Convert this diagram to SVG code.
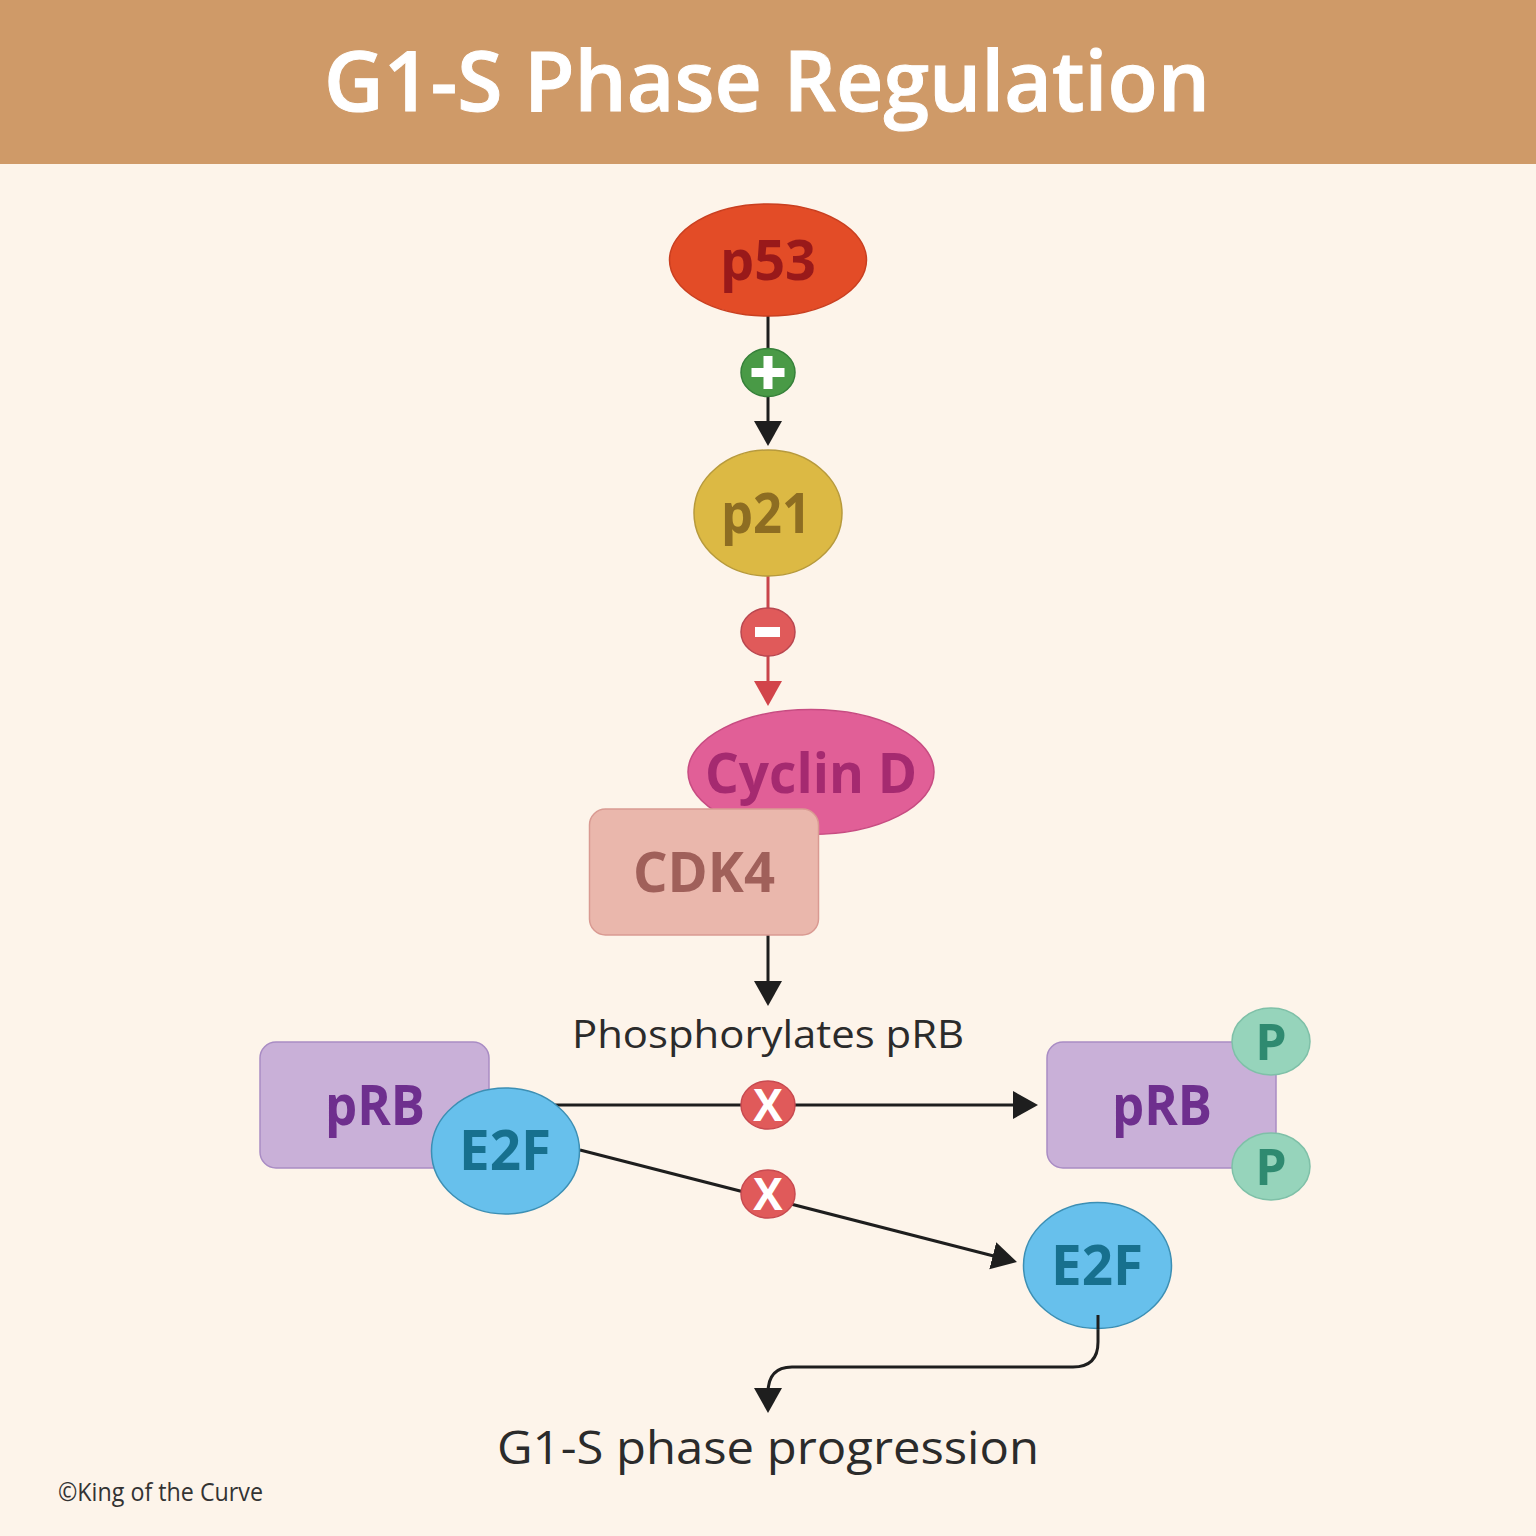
<svg xmlns="http://www.w3.org/2000/svg" width="1536" height="1536" viewBox="0 0 1536 1536">
<style>
text{font-family:"Open Sans","Noto Sans","Liberation Sans",sans-serif}
.c{text-anchor:middle}
.lbl{font-size:56px;font-weight:700}
.cap{font-size:38px;fill:#2b2b2b;font-weight:400}
.ln{fill:none;stroke:#1e1e1e;stroke-width:3}
.rd{fill:none;stroke:#c9444a;stroke-width:3}
.x{fill:#e05a5a;stroke:#c84a50;stroke-width:1.5}
.sym{fill:#fff;font-size:44px;font-weight:700}
.prb{fill:#c9b0d8;stroke:#a98cc4;stroke-width:1.5}
.e2f{fill:#67c0ec;stroke:#3c8fb4;stroke-width:1.5}
.p{fill:#96d4bb;stroke:#7fc0a8;stroke-width:1.5}
.tprb{fill:#6e2f8e}.te2f{fill:#17708e}.tp{fill:#2f8a70}
</style>
<defs>
<marker id="ab" markerUnits="userSpaceOnUse" markerWidth="26" markerHeight="30" refX="5" refY="15" orient="auto"><path d="M0 1L25 15L0 29Z" fill="#1e1e1e"/></marker>
<marker id="ar" markerUnits="userSpaceOnUse" markerWidth="26" markerHeight="30" refX="5" refY="15" orient="auto"><path d="M0 1L25 15L0 29Z" fill="#d2444a"/></marker>
</defs>
<rect width="1536" height="1536" fill="#fdf4ea"/>
<rect width="1536" height="164" fill="#cf9a68"/>
<text class="c" x="767" y="111" font-size="83" font-weight="600" fill="#fff" stroke="#fff" stroke-width="1" textLength="886" lengthAdjust="spacingAndGlyphs">G1-S Phase Regulation</text>
<g id="connectors">
<path class="ln" d="M768 316V426" marker-end="url(#ab)"/>
<path class="rd" d="M768 576V686" marker-end="url(#ar)"/>
<path class="ln" d="M768 935V986" marker-end="url(#ab)"/>
<path class="ln" d="M552 1105H1018" marker-end="url(#ab)"/>
<path class="ln" d="M580 1150L997.600 1257" marker-end="url(#ab)"/>
<path class="ln" d="M1098 1315V1342Q1098 1367 1073 1367H792Q768 1367 768 1393" marker-end="url(#ab)"/>
</g>
<g id="p53"><ellipse cx="768" cy="260" rx="98.500" ry="56" fill="#e34c27" stroke="#c93f20" stroke-width="1.500"/><text class="c lbl" x="768" y="280" fill="#99191a" textLength="96" lengthAdjust="spacingAndGlyphs">p53</text></g>
<g id="plus"><ellipse cx="768" cy="372.500" rx="27" ry="24" fill="#499a46" stroke="#36803a" stroke-width="1.500"/><path d="M763.500 356h9v12h12v9h-12v12h-9v-12h-12v-9h12z" fill="#fff"/></g>
<g id="p21"><ellipse cx="768" cy="513" rx="74" ry="63" fill="#dcb944" stroke="#b79a3c" stroke-width="1.500"/><text class="c lbl" x="766" y="533" fill="#8d6d22" textLength="90" lengthAdjust="spacingAndGlyphs">p21</text></g>
<g id="minus"><ellipse cx="768" cy="632" rx="27" ry="24" fill="#e05a5a" stroke="#b94750" stroke-width="1.500"/><rect x="755" y="627" width="25" height="10" fill="#fff"/></g>
<g id="cyclin-d"><ellipse cx="811" cy="772" rx="123" ry="62.500" fill="#e15f97" stroke="#c74c82" stroke-width="1.500"/><text class="c lbl" x="811" y="793" fill="#a52a70" textLength="212" lengthAdjust="spacingAndGlyphs">Cyclin D</text></g>
<g id="cdk4"><rect x="589.500" y="809" width="229" height="126" rx="16" fill="#eab7ac" stroke="#d99a92" stroke-width="1.500"/><text class="c lbl" x="704" y="892" fill="#a0605a" textLength="142" lengthAdjust="spacingAndGlyphs">CDK4</text></g>
<text class="c cap" x="768" y="1048" textLength="392" lengthAdjust="spacingAndGlyphs">Phosphorylates pRB</text>
<g id="prb-left"><rect class="prb" x="260" y="1042" width="229" height="126" rx="16"/><text class="c lbl tprb" x="375" y="1125" textLength="100" lengthAdjust="spacingAndGlyphs">pRB</text></g>
<g id="e2f-left"><ellipse class="e2f" cx="505.500" cy="1151" rx="74" ry="63"/><text class="c lbl te2f" x="505" y="1170" textLength="92" lengthAdjust="spacingAndGlyphs">E2F</text></g>
<g id="block-1"><ellipse class="x" cx="768" cy="1105" rx="27" ry="24"/><text class="c sym" x="768" y="1121">X</text></g>
<g id="block-2"><ellipse class="x" cx="768" cy="1194" rx="27" ry="24"/><text class="c sym" x="768" y="1210">X</text></g>
<g id="prb-right"><rect class="prb" x="1047" y="1042" width="229" height="126" rx="16"/><text class="c lbl tprb" x="1162" y="1125" textLength="100" lengthAdjust="spacingAndGlyphs">pRB</text></g>
<g id="p-top"><ellipse class="p" cx="1271" cy="1041.500" rx="39" ry="33.500"/><text class="c lbl tp" x="1271" y="1060" style="font-size:50px">P</text></g>
<g id="p-bottom"><ellipse class="p" cx="1271" cy="1166.500" rx="39" ry="33.500"/><text class="c lbl tp" x="1271" y="1185" style="font-size:50px">P</text></g>
<g id="e2f-right"><ellipse class="e2f" cx="1097.500" cy="1265.500" rx="74" ry="63"/><text class="c lbl te2f" x="1097" y="1285" textLength="92" lengthAdjust="spacingAndGlyphs">E2F</text></g>
<path class="ln" d="M1098 1315V1329"/>
<text class="c cap" x="768" y="1464" style="font-size:46px" textLength="542" lengthAdjust="spacingAndGlyphs">G1-S phase progression</text>
<text x="58" y="1501" font-size="26" fill="#333" textLength="205" lengthAdjust="spacingAndGlyphs">©King of the Curve</text>
</svg>
